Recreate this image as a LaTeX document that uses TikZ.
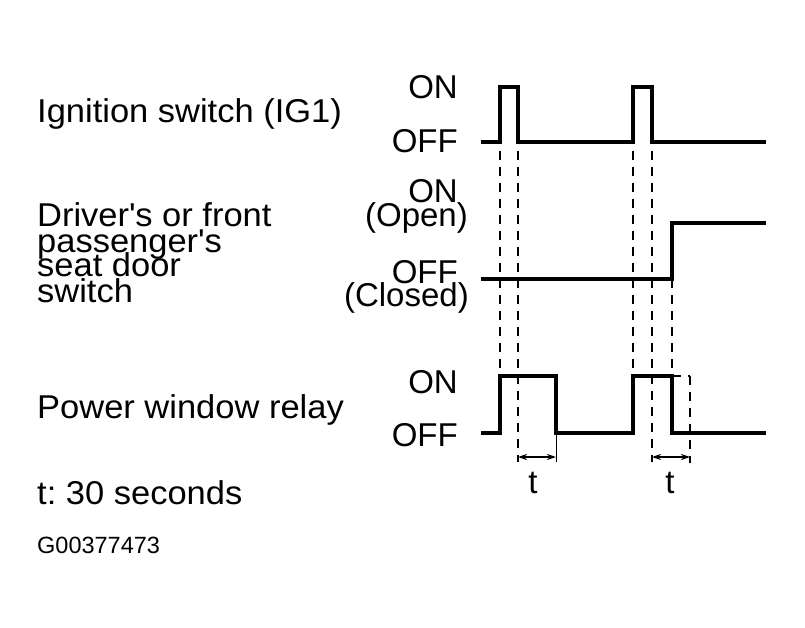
\documentclass[tikz,border=0pt]{standalone}
\usepackage{fontspec}
\setmainfont{Liberation Sans}
\newfontfamily\widesans[FakeStretch=1.045]{Liberation Sans}
\usetikzlibrary{arrows.meta}
\newcommand{\stack}[1]{\vtop{\baselineskip=25pt\lineskiplimit=-100pt\lineskip=0pt\halign{##\hfil\cr#1\crcr}}}
\newcommand{\rstack}[1]{\vtop{\baselineskip=24pt\lineskiplimit=-100pt\lineskip=0pt\halign{\hfil##\cr#1\crcr}}}
\begin{document}
\frenchspacing
\begin{tikzpicture}[x=1pt,y=-1pt,
  sig/.style={line width=3.5pt, line join=miter, line cap=butt},
  guide/.style={line width=2.2pt, dash pattern=on 9pt off 7pt},
  ext/.style={line width=1pt},
  dim/.style={line width=1.5pt, {Stealth[length=9pt,width=6pt]}-{Stealth[length=9pt,width=6pt]}},
  big/.style={font=\fontsize{33}{26}\selectfont, inner sep=0pt},
  wide/.style={font=\widesans\fontsize{33}{26}\selectfont, inner sep=0pt},
  small/.style={font=\fontsize{23.5}{28}\selectfont, inner sep=0pt}]
\useasboundingbox (0,0) rectangle (805,628);

% labels left
\node[wide, anchor=base west] (ign) at (37,123) {Ignition switch (IG1)};
\node[wide, anchor=base west] (door) at (37,227)
  {\stack{Driver\textquotesingle s or front\cr passenger\textquotesingle s\cr seat door\cr switch}};
\node[wide, anchor=base west] (rel) at (37,418) {Power window relay};
\node[wide, anchor=base west] (tdef) at (37,504) {t: 30 seconds};
\node[small, anchor=base west] (code) at (37,553) {G00377473};

% level labels
\node[big, anchor=base east] (ion) at (458,99) {ON};
\node[big, anchor=base east] (ioff) at (458,153) {OFF};
\node[big, anchor=base east] (don) at (468,203) {\rstack{ON\kern10pt\cr (Open)}};
\node[big, anchor=base east] (doff) at (469,283) {\rstack{OFF\kern11pt\cr (Closed)}};
\node[big, anchor=base east] (ron) at (458,393) {ON};
\node[big, anchor=base east] (roff) at (458,446) {OFF};

% guide lines
\draw[guide] (500,87) -- (500,376);
\draw[guide] (518,87) -- (518,462);
\draw[guide] (633,87) -- (633,376);
\draw[guide] (652,87) -- (652,462);
\draw[guide] (672,279) -- (672,376);
\draw[guide] (690,376) -- (690,463);
\draw[guide] (672,376) -- (690,376);
\draw[ext] (556,433) -- (556,462);

% signals
\draw[sig] (481,142) -- (500,142) -- (500,87) -- (518,87) -- (518,142)
  -- (633,142) -- (633,87) -- (652,87) -- (652,142) -- (766,142);
\draw[sig] (481,279) -- (672,279) -- (672,223) -- (766,223);
\draw[sig] (481,433) -- (500,433) -- (500,376) -- (556,376) -- (556,433)
  -- (633,433) -- (633,376) -- (672,376) -- (672,433) -- (766,433);

% dimension arrows
\coordinate (a1) at (518,457);
\coordinate (b1) at (556,457);
\coordinate (a2) at (652,457);
\coordinate (b2) at (690,457);
\draw[dim] (a1) -- (b1);
\draw[dim] (a2) -- (b2);
\node[big, anchor=base] (t1) at (533,493) {t};
\node[big, anchor=base] (t2) at (670,493) {t};
\end{tikzpicture}
\end{document}
